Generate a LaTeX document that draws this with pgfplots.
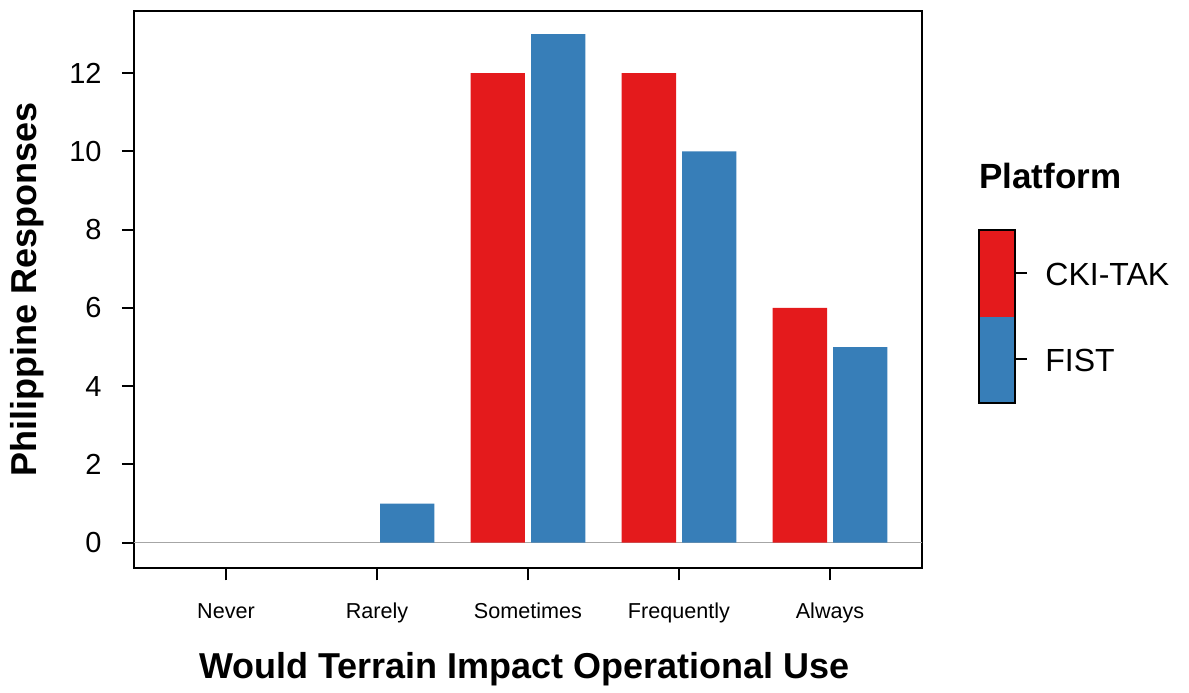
\documentclass[border=0pt]{standalone}
\usepackage{pgfplots}
\pgfplotsset{compat=1.18}
\usepackage{fontspec}
\setmainfont{Liberation Sans}
\definecolor{cred}{HTML}{E41A1C}
\definecolor{cblue}{HTML}{377EB8}
\begin{document}
\begin{tikzpicture}
\useasboundingbox (-67pt,-61.85pt) rectangle (527.5pt,284.15pt);
\begin{axis}[
  at={(0,0)}, anchor=south west,
  scale only axis, width=394pt, height=278.65pt,
  xmin=-0.609, xmax=4.609, ymin=-0.654, ymax=13.59,
  axis line style={line width=1pt},
  tick align=outside, major tick length=6pt,
  tick style={line width=1pt, black},
  xtick={0,1,2,3,4},
  xticklabels={Never,Rarely,Sometimes,Frequently,Always},
  ytick={0,2,4,6,8,10,12},
  xtick pos=left, ytick pos=left,
  /pgf/number format/assume math mode=true,
  xticklabel style={anchor=base, inner sep=0pt, yshift=-19pt, font=\fontsize{10.8}{12}\selectfont},
  yticklabel style={anchor=east, inner sep=0pt, xshift=-10pt, font=\fontsize{14.5}{16}\selectfont},
  xlabel={\bfseries\fontsize{18}{20}\selectfont Would Terrain Impact Operational Use},
  ylabel={\bfseries\fontsize{18}{20}\selectfont Philippine Responses},
  xlabel style={at={(axis description cs:0.4955,-0.1974)}, anchor=base},
  ylabel style={at={(axis description cs:-0.1235,0.5)}, anchor=base},
  ybar, bar width=0.36,
  unbounded coords=discard,
]
\draw[color=black!35, line width=0.7pt] (axis cs:-0.609,0) -- (axis cs:4.609,0);
\addplot[fill=cred, draw=none, bar shift=-0.2, y filter/.expression={y==0 ? nan : y}] coordinates {(0,0) (1,0) (2,12) (3,12) (4,6)};
\addplot[fill=cblue, draw=none, bar shift=0.2, y filter/.expression={y==0 ? nan : y}] coordinates {(0,0) (1,1) (2,13) (3,10) (4,5)};
\end{axis}
% legend
\fill[cred] (422.5pt,125.65pt) rectangle (440.5pt,169.15pt);
\fill[cblue] (422.5pt,82.65pt) rectangle (440.5pt,125.65pt);
\draw[line width=1pt] (422.5pt,82.65pt) rectangle (440.5pt,169.15pt);
\draw[line width=1pt] (440.5pt,147.5pt) -- (446.35pt,147.5pt);
\draw[line width=1pt] (440.5pt,104.5pt) -- (446.35pt,104.5pt);
\node[anchor=base west, inner sep=0pt, font=\fontsize{16}{18}\selectfont] at (455.5pt,141.65pt) {CKI-TAK};
\node[anchor=base west, inner sep=0pt, font=\fontsize{16}{18}\selectfont] at (455.5pt,98.65pt) {FIST};
\node[anchor=base west, inner sep=0pt, font=\bfseries\fontsize{17.5}{20}\selectfont] at (422.5pt,190pt) {Platform};
\end{tikzpicture}
\end{document}
